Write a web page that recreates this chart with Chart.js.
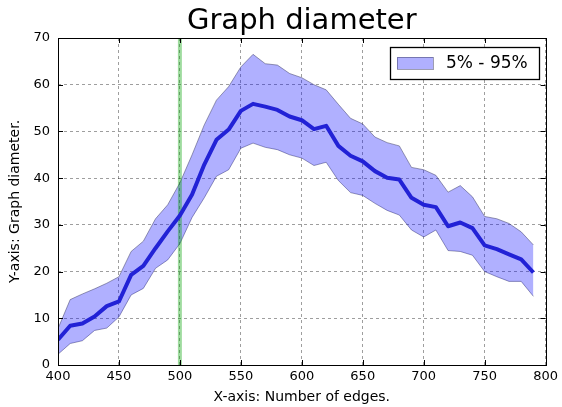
<!DOCTYPE html>
<html lang="en">
<head>
<meta charset="UTF-8" />
<title>Graph diameter</title>
<script src="https://cdn.jsdelivr.net/npm/chart.js"></script>
<style>
  html, body { margin: 0; padding: 0; background: #fff; }
  #wrap { width: 562px; height: 407px; }
</style>
</head>
<body>
<div id="wrap"><canvas id="chart" width="562" height="407"></canvas></div>
<script>
// number of edges (x) and graph diameter stats
const edges = [400, 410, 420, 430, 440, 450, 460, 470, 480, 490,
               500, 510, 520, 530, 540, 550, 560, 570, 580, 590,
               600, 610, 620, 630, 640, 650, 660, 670, 680, 690,
               700, 710, 720, 730, 740, 750, 760, 770, 780, 790];
const diameterMean = [5.4, 8.4, 8.9, 10.4, 12.6, 13.6, 19.3, 21.2, 25.0, 28.6,
                      32.0, 36.5, 42.9, 48.2, 50.4, 54.4, 55.9, 55.3, 54.6, 53.2,
                      52.4, 50.5, 51.2, 46.9, 44.8, 43.6, 41.5, 40.1, 39.7, 35.8,
                      34.3, 33.8, 29.7, 30.5, 29.3, 25.6, 24.8, 23.7, 22.6, 19.8];
const diameterP95 = [7.8, 14.0, 15.2, 16.3, 17.5, 18.9, 24.3, 26.5, 31.3, 34.3,
                     39.0, 45.0, 51.4, 56.7, 59.6, 63.8, 66.5, 64.5, 64.2, 62.4,
                     61.5, 60.0, 58.9, 55.8, 52.8, 51.6, 48.8, 47.6, 46.9, 42.3,
                     41.8, 40.6, 37.0, 38.4, 36.0, 31.8, 31.3, 30.3, 28.5, 25.7];
const diameterP5 = [2.3, 4.6, 5.2, 7.4, 7.9, 10.3, 15.0, 16.4, 20.7, 22.5,
                    26.0, 31.6, 35.8, 40.4, 41.8, 46.4, 47.5, 46.6, 46.1, 45.0,
                    44.3, 42.7, 43.4, 39.5, 36.9, 36.3, 34.6, 33.1, 32.1, 28.9,
                    27.4, 28.9, 24.5, 24.3, 23.5, 20.0, 18.9, 17.9, 17.9, 14.7];
const markerEdges = 500;
const xTicks = [400, 450, 500, 550, 600, 650, 700, 750, 800];
const yTicks = [0, 10, 20, 30, 40, 50, 60, 70];

const FONT = '"DejaVu Sans", sans-serif';
const bandFill = 'rgba(0, 0, 255, 0.31)';
const bandEdge = 'rgba(60, 60, 100, 0.5)';
const gridColor = 'rgba(0, 0, 0, 0.38)';

function pts(ys) {
  return edges.map((x, i) => ({ x: x, y: ys[i] }));
}

// box around the axes + inward ticks on all four sides, like matplotlib classic
const framePlugin = {
  id: 'frame',
  afterDatasetsDraw(chart) {
    const { ctx, chartArea: ca, scales } = chart;
    ctx.save();
    ctx.strokeStyle = '#000';
    ctx.lineWidth = 1;
    ctx.beginPath();
    xTicks.forEach(v => {
      const px = Math.round(scales.x.getPixelForValue(v)) + 0.5;
      ctx.moveTo(px, ca.bottom); ctx.lineTo(px, ca.bottom - 5);
      ctx.moveTo(px, ca.top); ctx.lineTo(px, ca.top + 5);
    });
    yTicks.forEach(v => {
      const py = Math.round(scales.y.getPixelForValue(v)) + 0.5;
      ctx.moveTo(ca.left, py); ctx.lineTo(ca.left + 5, py);
      ctx.moveTo(ca.right, py); ctx.lineTo(ca.right - 5, py);
    });
    ctx.stroke();
    ctx.strokeRect(Math.round(ca.left) + 0.5, Math.round(ca.top) + 0.5,
                   Math.round(ca.right - ca.left), Math.round(ca.bottom - ca.top));
    ctx.restore();
  }
};

// legend box in the upper right corner
const boxLegend = {
  id: 'boxLegend',
  afterDraw(chart) {
    const { ctx, chartArea: ca } = chart;
    const ds = chart.data.datasets.find(d => d.showInBox);
    ctx.save();
    ctx.font = '17px ' + FONT;
    const tw = ctx.measureText(ds.label).width;
    const w = Math.round(7 + 36 + 13 + tw + 11);
    const h = 32;
    const left = Math.round(ca.right - 7 - w);
    const top = Math.round(ca.top + 9);
    ctx.fillStyle = '#fff';
    ctx.fillRect(left, top, w, h);
    ctx.strokeStyle = '#000';
    ctx.lineWidth = 1.3;
    ctx.strokeRect(left + 0.5, top + 0.5, w, h);
    ctx.fillStyle = ds.backgroundColor;
    ctx.fillRect(left + 7, top + 10, 36, 12);
    ctx.strokeStyle = ds.borderColor;
    ctx.lineWidth = 1;
    ctx.strokeRect(left + 7.5, top + 10.5, 36, 12);
    ctx.fillStyle = '#000';
    ctx.textBaseline = 'middle';
    ctx.fillText(ds.label, left + 56, top + h / 2 + 1);
    ctx.restore();
  }
};

new Chart(document.getElementById('chart'), {
  type: 'line',
  data: {
    datasets: [
      {
        label: 'mean',
        data: pts(diameterMean),
        borderColor: 'rgb(34, 34, 214)',
        borderWidth: 4,
        borderJoinStyle: 'round',
        pointRadius: 0,
        fill: false
      },
      {
        label: 'marker',
        data: [{ x: markerEdges, y: yTicks[0] }, { x: markerEdges, y: yTicks[yTicks.length - 1] }],
        borderColor: 'rgba(0, 160, 0, 0.38)',
        borderWidth: 4,
        pointRadius: 0,
        fill: false
      },
      {
        label: '5% - 95%',
        showInBox: true,
        data: pts(diameterP95),
        borderColor: bandEdge,
        backgroundColor: bandFill,
        borderWidth: 1,
        pointRadius: 0,
        fill: '+1'
      },
      {
        label: 'p5',
        data: pts(diameterP5),
        borderColor: bandEdge,
        borderWidth: 1,
        pointRadius: 0,
        fill: false
      }
    ]
  },
  options: {
    responsive: false,
    animation: false,
    devicePixelRatio: 1,
    layout: { padding: { left: 0, right: 13, top: 0, bottom: 0 } },
    plugins: {
      legend: { display: false },
      tooltip: { enabled: false },
      title: {
        display: true,
        fullSize: false,
        text: 'Graph diameter',
        color: '#000',
        font: { family: FONT, size: 29, weight: 'normal', lineHeight: 1 },
        padding: { top: 7, bottom: 2 }
      }
    },
    scales: {
      x: {
        type: 'linear',
        min: xTicks[0],
        max: xTicks[xTicks.length - 1],
        afterBuildTicks: s => { s.ticks = xTicks.map(v => ({ value: v })); },
        afterFit: s => { s.height = 42; },
        grid: { color: gridColor, lineWidth: 1, drawTicks: false },
        border: { display: false, dash: [3, 3] },
        ticks: { color: '#000', font: { family: FONT, size: 13 }, padding: 4, maxRotation: 0 },
        title: {
          display: true,
          text: 'X-axis: Number of edges.',
          color: '#000',
          font: { family: FONT, size: 14 },
          padding: { top: 0, bottom: 1 }
        }
      },
      y: {
        min: yTicks[0],
        max: yTicks[yTicks.length - 1],
        afterBuildTicks: s => { s.ticks = yTicks.map(v => ({ value: v })); },
        afterFit: s => { s.width = 58; },
        grid: { color: gridColor, lineWidth: 1, drawTicks: false },
        border: { display: false, dash: [3, 3] },
        ticks: { color: '#000', font: { family: FONT, size: 13 }, padding: 8 },
        title: {
          display: true,
          text: 'Y-axis: Graph diameter.',
          color: '#000',
          font: { family: FONT, size: 14 },
          padding: { top: 7, bottom: 0 }
        }
      }
    }
  },
  plugins: [framePlugin, boxLegend]
});
</script>
</body>
</html>
